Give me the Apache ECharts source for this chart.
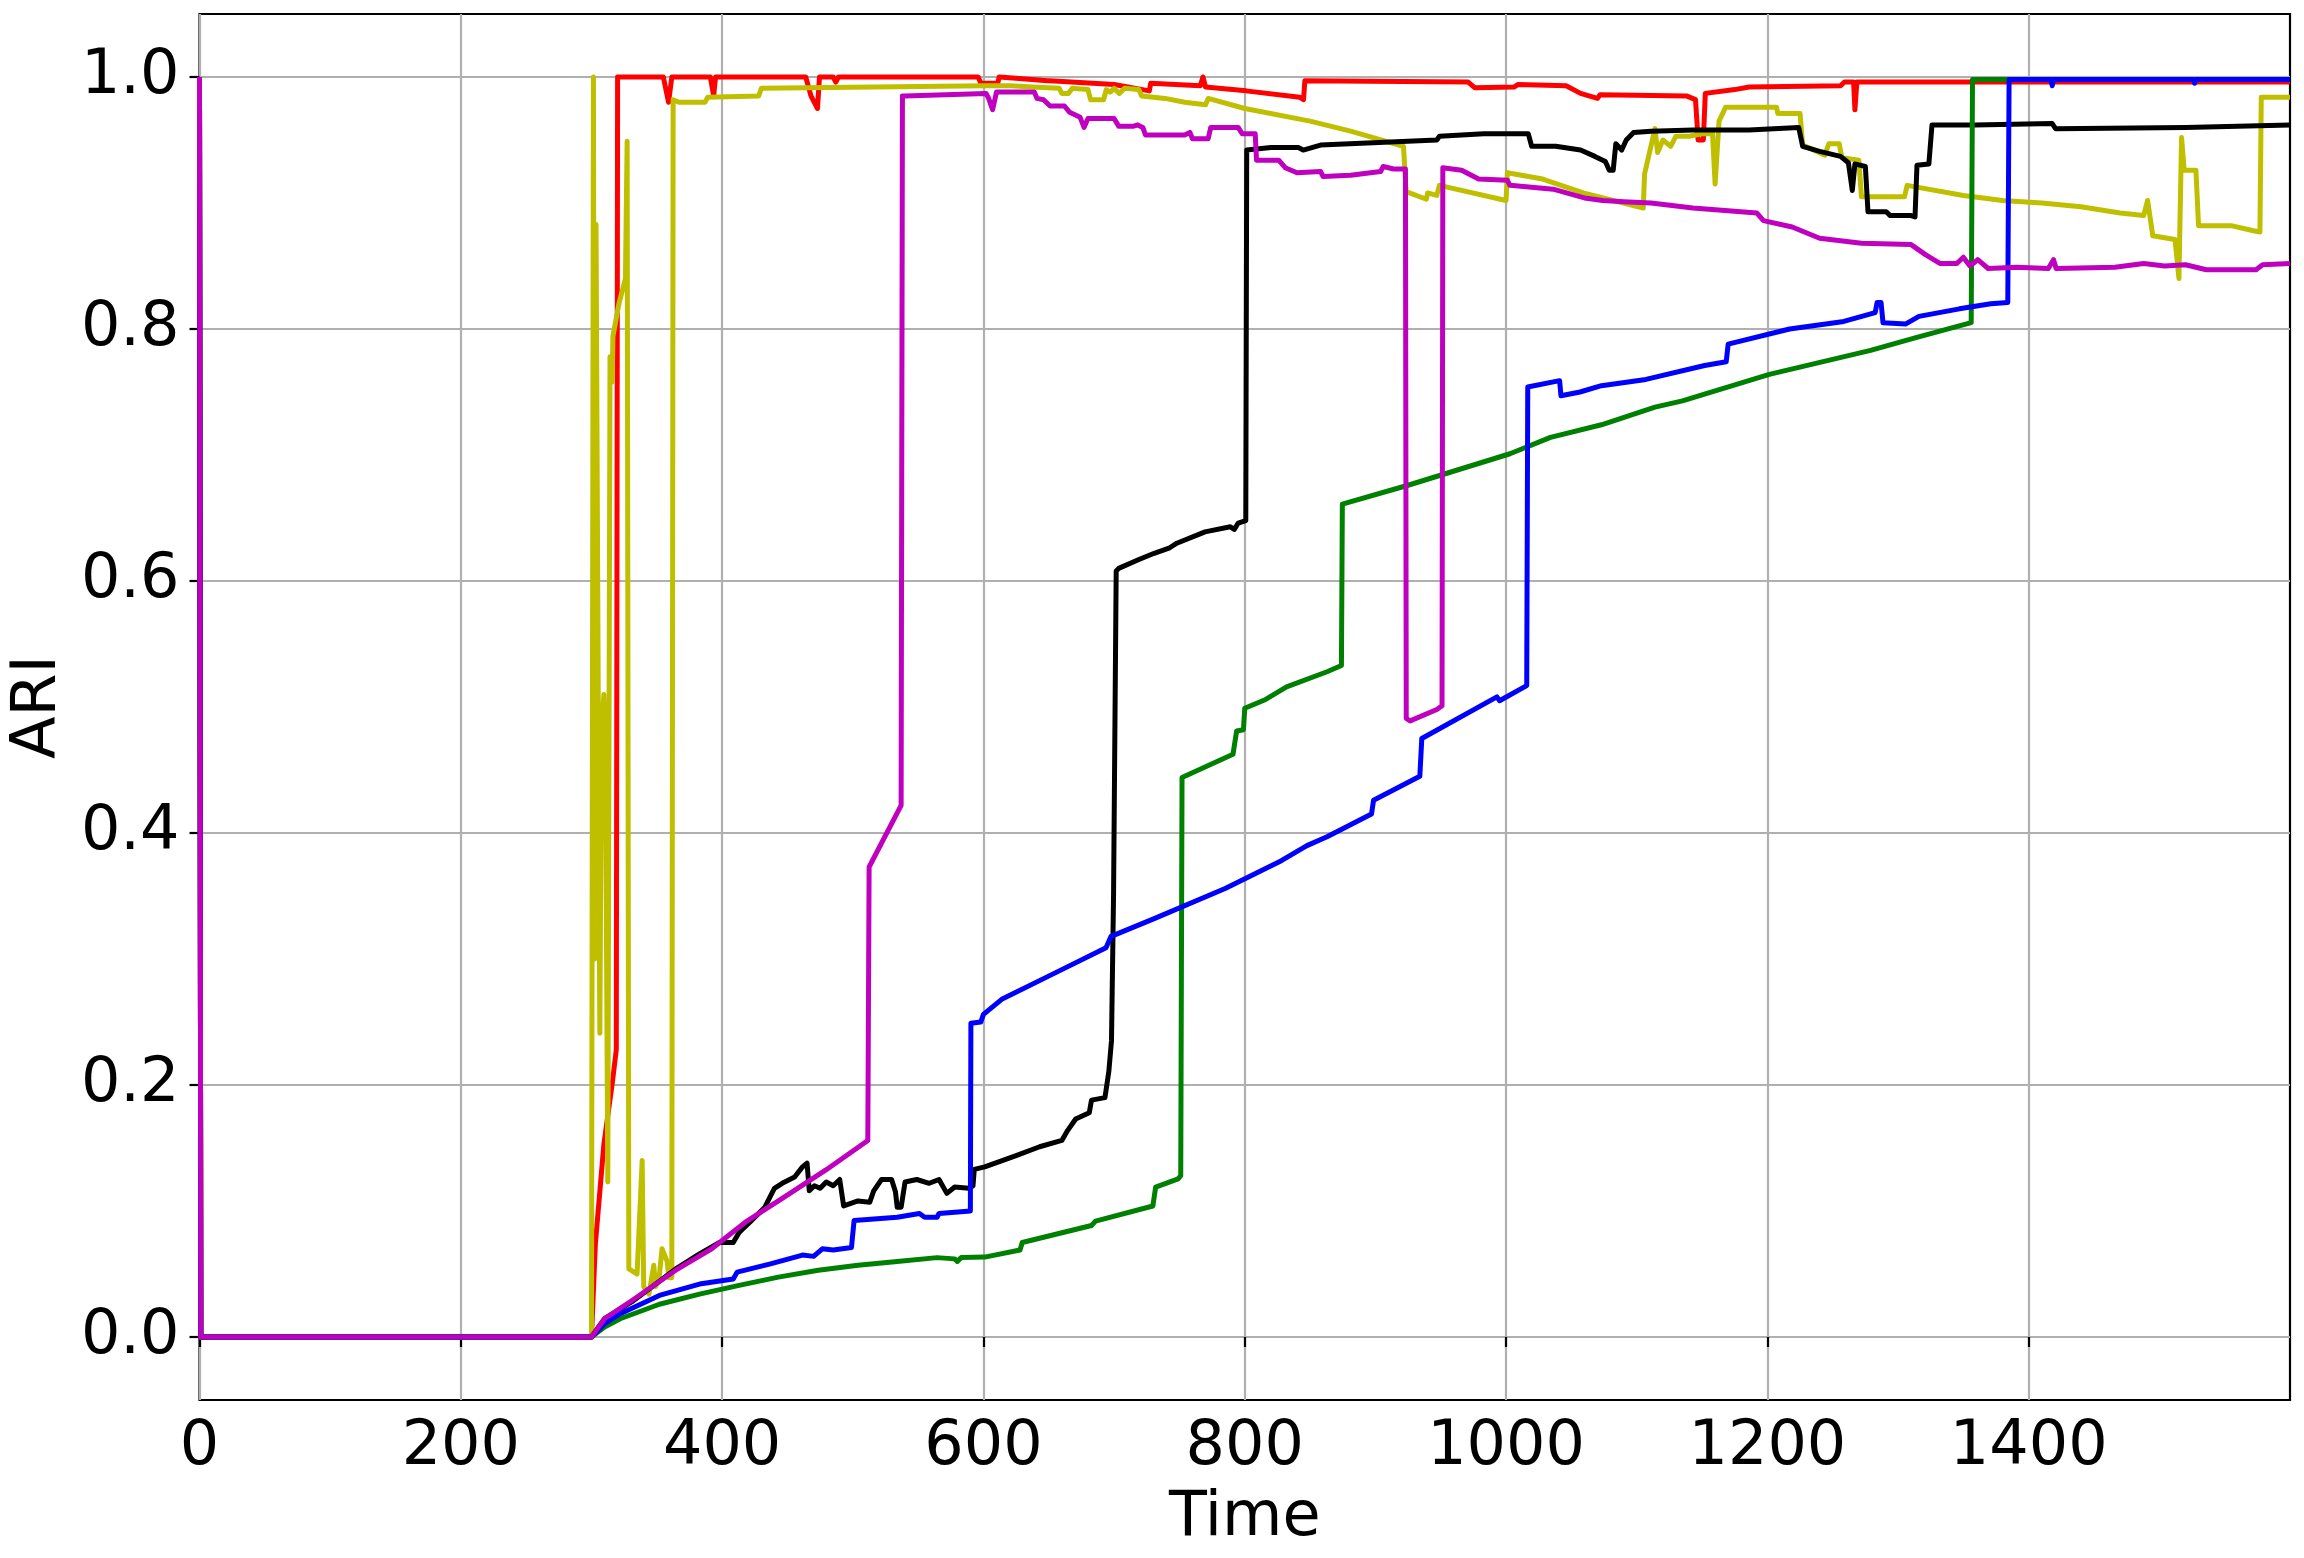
<!DOCTYPE html>
<html>
<head>
<meta charset="utf-8">
<script src="https://cdn.jsdelivr.net/npm/echarts@6/dist/echarts.min.js"></script>
<style>
  html, body { margin: 0; padding: 0; background: #fff; }
  #chart { width: 2304px; height: 1558px; }
</style>
</head>
<body>
<div id="chart"></div>
<script>
// ---- data: [time, ARI] ----
const timeTicks = [0, 200, 400, 600, 800, 1000, 1200, 1400];
const ariTicks = [0, 0.2, 0.4, 0.6, 0.8, 1.0];

const ariRed = [[0,1],[1,0],[300,0],[303,0.074],[309.5,0.153],[316,0.202],[319,0.228],[320,1.0],[355,1.0],[359,0.98],[361.5,1.0],[391,1.0],[393.5,0.985],[395,1.0],[464,1.0],[468,0.985],[473,0.975],[474.5,1.0],[485,1.0],[487,0.996],[489,1.0],[596,1.0],[598,0.995],[611,0.995],[612,1.0],[625,0.999],[649,0.997],[650,0.996],[651,0.997],[700,0.994],[727,0.989],[728,0.995],[766,0.993],[768,1.0],[770,0.992],[801,0.989],[842,0.984],[845,0.982],[846,0.997],[971,0.996],[976,0.9915],[1006,0.992],[1009,0.994],[1046,0.993],[1057,0.987],[1070,0.983],[1072,0.986],[1138,0.985],[1145,0.982],[1147,0.95],[1151,0.95],[1152.5,0.987],[1175,0.99],[1186,0.992],[1256,0.993],[1259,0.996],[1266,0.996],[1267,0.974],[1268.5,0.996],[1315,0.996],[1358,0.996],[1600,0.996]];

const ariYellow = [[0,1],[1,0],[300,0],[301.5,1.0],[302.5,0.3],[303.5,0.883],[306.4,0.241],[307.7,0.48],[309.5,0.51],[310.8,0.45],[312.5,0.123],[313.8,0.123],[314.2,0.778],[315.9,0.758],[316.4,0.794],[321,0.82],[326,0.84],[327.3,0.949],[328.6,0.054],[334.9,0.05],[336.2,0.08],[338.8,0.14],[340,0.04],[344,0.034],[347.7,0.057],[349,0.04],[351.6,0.045],[354,0.07],[357.9,0.06],[359.2,0.047],[361.5,0.047],[362.5,0.982],[367,0.98],[387,0.98],[389,0.984],[428,0.985],[430,0.991],[602,0.993],[621,0.993],[637,0.992],[658,0.991],[660,0.987],[665,0.987],[668,0.991],[680,0.99],[682,0.982],[692,0.982],[694,0.99],[697,0.988],[700,0.991],[704,0.987],[708,0.991],[719,0.99],[721,0.985],[739,0.983],[754,0.98],[770,0.978],[772,0.983],[800,0.975],[850,0.965],[881,0.957],[921.5,0.945],[923.5,0.909],[939,0.903],[940,0.908],[947,0.906],[949,0.914],[1000,0.902],[1001,0.924],[1028,0.919],[1059,0.908],[1105,0.896],[1106,0.923],[1114,0.959],[1116,0.94],[1120,0.95],[1126,0.945],[1130,0.953],[1140,0.953],[1150,0.955],[1158,0.955],[1160,0.915],[1163,0.965],[1168,0.976],[1207,0.976],[1208,0.971],[1225,0.971],[1227,0.946],[1244,0.938],[1247,0.947],[1255,0.947],[1257,0.936],[1270,0.934],[1272,0.905],[1305,0.905],[1307,0.914],[1350,0.906],[1380,0.902],[1410,0.9],[1440,0.897],[1470,0.892],[1488,0.89],[1491,0.902],[1495,0.874],[1512,0.871],[1515,0.84],[1517,0.952],[1519,0.926],[1528,0.926],[1530,0.882],[1555,0.882],[1572,0.878],[1577,0.877],[1578,0.984],[1600,0.984]];

const ariBlack = [[0,1],[1,0],[300,0],[310,0.0145],[331,0.028],[364.5,0.054],[382.7,0.066],[398,0.075],[408.5,0.075],[413,0.083],[422,0.092],[432.7,0.103],[440,0.118],[446,0.122],[455.5,0.127],[461.5,0.135],[465,0.138],[466.7,0.116],[470.6,0.12],[475,0.118],[479.7,0.123],[485,0.12],[490,0.125],[493,0.104],[504,0.108],[513,0.107],[516,0.116],[522,0.125],[529.7,0.125],[532.7,0.115],[534,0.103],[537,0.103],[540,0.123],[549,0.125],[558.5,0.122],[566,0.125],[572,0.114],[578,0.119],[588.8,0.118],[592,0.12],[593,0.133],[601,0.135],[625,0.144],[643,0.151],[660,0.156],[664.5,0.164],[670.6,0.173],[681,0.178],[682.7,0.188],[693,0.19],[696,0.211],[698,0.235],[699.6,0.352],[701.6,0.608],[703.5,0.61],[719,0.617],[730.7,0.622],[742,0.626],[748,0.63],[769.6,0.639],[789,0.643],[792,0.641],[795,0.646],[800.8,0.648],[801.5,0.942],[820,0.944],[841,0.944],[844.7,0.942],[858,0.946],[947,0.95],[949,0.953],[983,0.955],[1017,0.955],[1019.6,0.945],[1038,0.945],[1057,0.942],[1068,0.937],[1076,0.933],[1079,0.926],[1082,0.926],[1084,0.947],[1088.5,0.942],[1092,0.95],[1097.6,0.956],[1111,0.957],[1143,0.958],[1186,0.958],[1224,0.96],[1227,0.945],[1240,0.941],[1256,0.937],[1262,0.932],[1265,0.91],[1267,0.931],[1275,0.929],[1277,0.893],[1291,0.893],[1294,0.89],[1310,0.89],[1313,0.889],[1314.5,0.93],[1323.6,0.931],[1326,0.962],[1358.7,0.962],[1418,0.963],[1420.6,0.959],[1520,0.96],[1600,0.962]];

const ariGreen = [[0,1],[1,0],[300,0],[310,0.008],[322,0.0145],[352,0.026],[382.7,0.034],[413,0.041],[443,0.0475],[473.6,0.053],[504,0.057],[534,0.06],[564.5,0.063],[578,0.062],[580,0.06],[583,0.063],[601,0.0634],[628,0.069],[629.7,0.075],[682.7,0.0885],[685.8,0.092],[729.7,0.104],[731.8,0.119],[749,0.1255],[751,0.128],[752,0.444],[791,0.4625],[793.8,0.481],[799,0.482],[800,0.499],[816,0.506],[832,0.516],[863,0.528],[874,0.533],[874.7,0.661],[925,0.676],[1003,0.701],[1034,0.714],[1073,0.724],[1114,0.738],[1135,0.743],[1201.5,0.764],[1279,0.783],[1313,0.793],[1356,0.805],[1357,0.998],[1600,0.998]];

const ariBlue = [[0,1],[1,0],[300,0],[310,0.0106],[322,0.0185],[352,0.033],[382.7,0.042],[408.5,0.046],[411.5,0.0515],[437,0.058],[461.5,0.065],[470,0.064],[476.7,0.07],[485,0.069],[499,0.071],[501,0.0925],[534,0.095],[551,0.098],[555,0.095],[564.5,0.095],[566,0.098],[590,0.1],[590.4,0.249],[598,0.25],[600,0.256],[614,0.268],[653,0.288],[693.8,0.309],[697.7,0.318],[730.7,0.332],[785,0.356],[828,0.378],[847.6,0.39],[863,0.397],[897,0.415],[898.6,0.426],[934,0.445],[935.5,0.475],[993,0.508],[995,0.505],[1015.8,0.517],[1016.6,0.754],[1041,0.759],[1042,0.747],[1056.6,0.75],[1073,0.755],[1107,0.76],[1152,0.771],[1168.5,0.774],[1170,0.788],[1217,0.8],[1258.5,0.806],[1282.5,0.813],[1284,0.821],[1287,0.821],[1288.5,0.805],[1306,0.804],[1316,0.81],[1347,0.816],[1371,0.82],[1384,0.821],[1385,0.998],[1417,0.998],[1418,0.993],[1419,0.998],[1526,0.998],[1527,0.995],[1528,0.998],[1600,0.998]];

const ariMagenta = [[0,1],[1,0],[300,0],[310,0.0145],[331,0.029],[364.5,0.053],[392,0.07],[419,0.092],[449,0.112],[480,0.133],[511.5,0.156],[512.5,0.373],[537,0.422],[538,0.985],[540,0.985],[602,0.987],[604,0.983],[607,0.974],[610,0.988],[639,0.988],[641,0.983],[646,0.982],[651,0.977],[662,0.977],[666,0.972],[674,0.968],[677,0.96],[680,0.967],[700,0.967],[703.5,0.961],[715,0.961],[718,0.962],[722,0.96],[724,0.954],[754,0.954],[758,0.956],[760,0.951],[772,0.951],[774,0.96],[795,0.96],[798,0.955],[808,0.955],[809,0.934],[826,0.934],[831,0.928],[840,0.924],[858,0.925],[860,0.921],[881,0.922],[904,0.925],[906,0.929],[914,0.927],[923,0.927],[923.6,0.491],[926.6,0.489],[947,0.498],[951,0.501],[951.6,0.928],[966,0.926],[979,0.919],[1001,0.918],[1003,0.914],[1036,0.911],[1060,0.904],[1074,0.902],[1090,0.901],[1111,0.9],[1143,0.896],[1192,0.892],[1197,0.886],[1219,0.881],[1240,0.872],[1272,0.868],[1310,0.867],[1321,0.859],[1332,0.852],[1345,0.852],[1350,0.857],[1355,0.85],[1361,0.855],[1369,0.848],[1391,0.849],[1415,0.848],[1419,0.855],[1421,0.848],[1466,0.849],[1488,0.852],[1504,0.85],[1520,0.851],[1536,0.847],[1574,0.847],[1579,0.851],[1600,0.852]];

// ---- chart ----
const FONT = 'DejaVu Sans';
const FS = 62;
const LW = 5;
function lineSeries(data, color) {
  return {
    type: 'line', data: data, showSymbol: false, symbol: 'none',
    lineStyle: { color: color, width: LW, join: 'round', cap: 'butt' },
    itemStyle: { color: color }, animation: false, silent: true, clip: true
  };
}

const chart = echarts.init(document.getElementById('chart'), null, { renderer: 'canvas' });
chart.setOption({
  backgroundColor: '#ffffff',
  animation: false,
  grid: { left: 197, right: 14, top: 14, bottom: 158, show: true, borderColor: '#000', borderWidth: 2.2, backgroundColor: 'transparent' },
  xAxis: {
    type: 'value', min: 0, max: 1600,
    name: 'Time', nameLocation: 'middle', nameGap: 88,
    nameTextStyle: { fontFamily: FONT, fontSize: FS, color: '#000' },
    axisLine: { show: false },
    axisTick: { show: true, inside: false, length: 10, lineStyle: { color: '#000', width: 2.2 }, customValues: timeTicks },
    axisLabel: { fontFamily: FONT, fontSize: FS, color: '#000', margin: 17, customValues: timeTicks, formatter: v => String(v) },
    splitLine: { show: true, lineStyle: { color: '#b0b0b0', width: 2.2 } }
  },
  yAxis: {
    type: 'value', min: -0.05, max: 1.05,
    name: 'ARI', nameLocation: 'middle', nameGap: 116, nameRotate: 90,
    nameTextStyle: { fontFamily: FONT, fontSize: FS, color: '#000' },
    axisLine: { show: false },
    axisTick: { show: true, inside: false, length: 10, lineStyle: { color: '#000', width: 2.2 }, customValues: ariTicks },
    axisLabel: { fontFamily: FONT, fontSize: FS, color: '#000', margin: 20, customValues: ariTicks, formatter: v => v.toFixed(1) },
    splitLine: { show: true, lineStyle: { color: '#b0b0b0', width: 2.2 } }
  },
  series: [
    lineSeries(ariRed, '#ff0000'),
    lineSeries(ariYellow, '#bfbf00'),
    lineSeries(ariBlack, '#000000'),
    lineSeries(ariGreen, '#008000'),
    lineSeries(ariBlue, '#0000ff'),
    lineSeries(ariMagenta, '#bf00bf')
  ]
});
</script>
</body>
</html>
